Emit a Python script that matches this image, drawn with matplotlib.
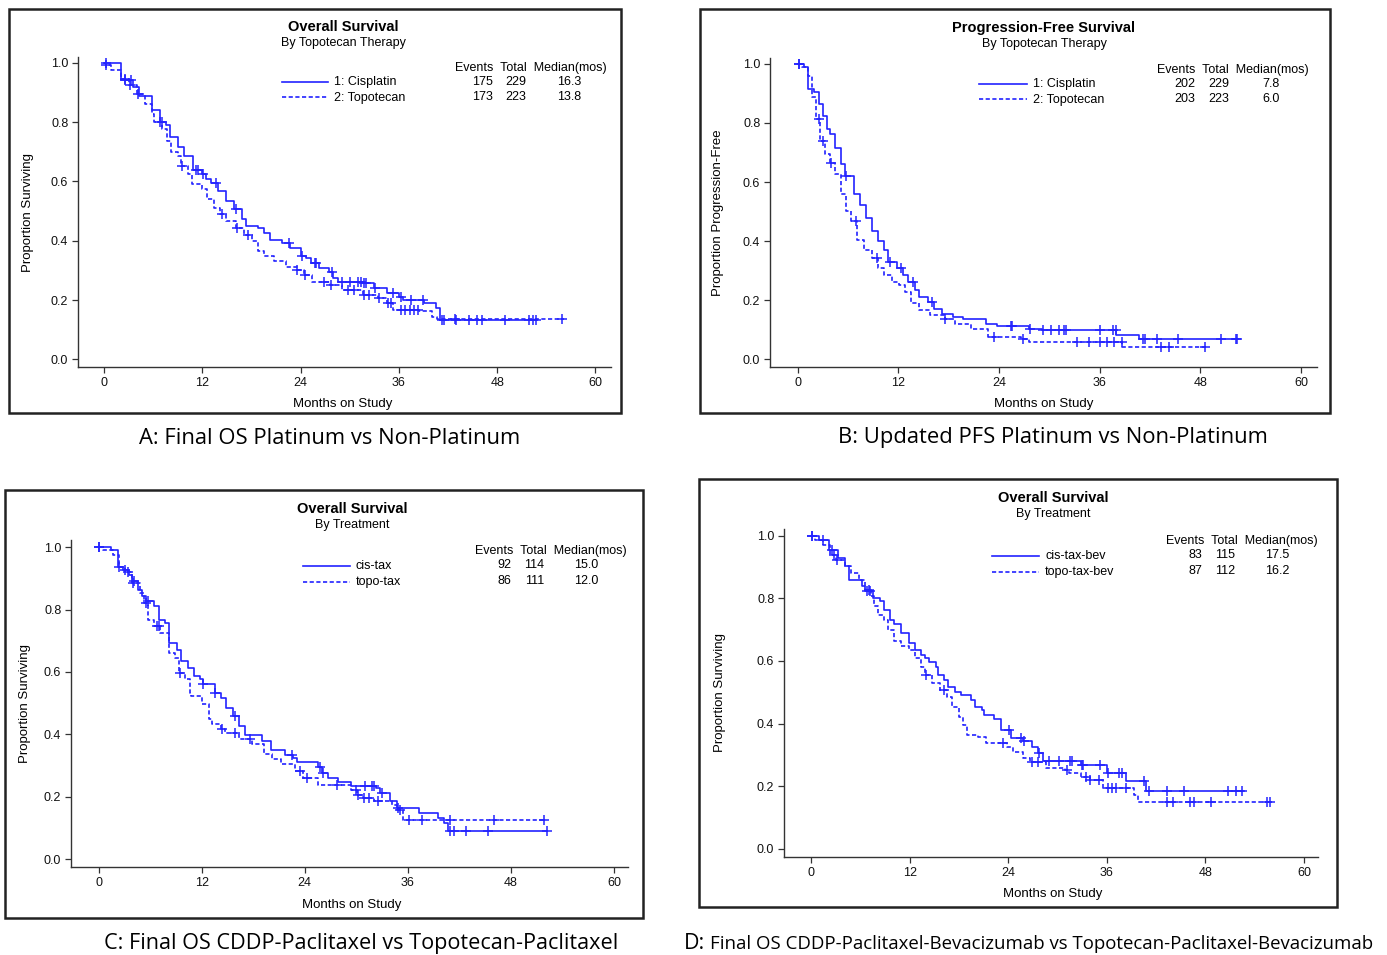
import numpy as np
import matplotlib
matplotlib.use("Agg")
import matplotlib.pyplot as plt
from matplotlib.patches import Rectangle

plt.rcParams['font.family'] = ['Liberation Sans', 'DejaVu Sans']

W, H = 1387, 955
BLUE = '#2323ff'

# ---- data ----
# A: OS cisplatin vs topotecan
a_cis_t = [0, 2.1, 3.5, 4.3, 5.8, 6.8, 7.5, 8.0, 9.0, 9.7, 10.9, 11.9, 12.4, 13.1, 13.9, 14.9, 15.8, 16.8,
           17.3, 18.8, 19.5, 20.3, 21.7, 22.7, 24.0, 24.7, 25.2, 26.2, 27.4, 27.9, 28.6, 31.6, 33.0, 34.5,
           36.0, 36.5, 39.0, 40.5, 41.0]
a_cis_s = [1.0, 0.941, 0.92, 0.89, 0.84, 0.80, 0.79, 0.75, 0.715, 0.687, 0.64, 0.624, 0.607, 0.596, 0.568,
           0.534, 0.506, 0.472, 0.45, 0.443, 0.426, 0.404, 0.393, 0.376, 0.347, 0.342, 0.325, 0.308, 0.296,
           0.274, 0.262, 0.257, 0.24, 0.223, 0.211, 0.20, 0.189, 0.172, 0.134]
a_cis_end = 52.7
a_cis_cens = [0.2, 2.6, 3.3, 7.0, 11.2, 11.5, 12.1, 13.6, 16.1, 22.6, 24.2, 25.7, 25.9, 27.8, 29.1, 30.0,
              31.0, 31.4, 31.7, 32.0, 33.1, 35.3, 36.3, 37.5, 38.9, 41.2, 41.5, 43.0, 44.5, 45.5, 46.2,
              49.0, 51.9, 52.4, 52.7]
a_top_t = [0, 0.2, 0.8, 2.1, 3.0, 4.0, 5.0, 5.8, 6.1, 7.0, 7.7, 8.2, 9.0, 9.4, 10.2, 10.7, 11.9, 12.6, 13.4,
           14.1, 14.9, 16.1, 17.1, 18.1, 18.8, 19.5, 20.8, 22.2, 23.5, 24.4, 25.4, 27.6, 29.1, 31.6, 33.5,
           34.5, 35.3, 38.5, 40.0, 40.7]
a_top_s = [1.0, 0.992, 0.975, 0.947, 0.924, 0.894, 0.862, 0.828, 0.80, 0.777, 0.738, 0.698, 0.687, 0.653,
           0.624, 0.59, 0.574, 0.54, 0.511, 0.489, 0.466, 0.443, 0.421, 0.398, 0.364, 0.347, 0.33, 0.313,
           0.302, 0.285, 0.262, 0.251, 0.234, 0.217, 0.206, 0.189, 0.166, 0.163, 0.144, 0.137]
a_top_end = 56.2
a_top_cens = [0.2, 2.6, 3.1, 4.1, 6.8, 9.5, 14.4, 16.2, 17.6, 23.6, 24.5, 26.9, 27.7, 29.8, 30.5, 31.7,
              32.3, 33.6, 34.7, 35.0, 36.3, 36.8, 37.3, 37.8, 38.3, 42.9, 55.9]

# B: PFS cisplatin vs topotecan
b_cis_t = [0, 0.7, 1.2, 2.0, 2.5, 3.0, 3.5, 3.9, 4.4, 5.2, 5.6, 6.7, 7.4, 8.1, 8.9, 9.6, 10.3, 10.8, 11.8,
           12.6, 13.1, 14.0, 14.5, 15.5, 16.3, 17.2, 18.5, 19.7, 22.4, 23.7, 27.6, 29.1, 38.0, 40.7]
b_cis_s = [1.0, 0.989, 0.915, 0.904, 0.864, 0.824, 0.779, 0.762, 0.717, 0.66, 0.62, 0.558, 0.524, 0.478,
           0.433, 0.399, 0.371, 0.331, 0.308, 0.286, 0.263, 0.235, 0.212, 0.195, 0.172, 0.155, 0.144,
           0.136, 0.121, 0.113, 0.104, 0.099, 0.082, 0.070]
b_cis_end = 52.5
b_cis_cens = [0.1, 5.7, 11.0, 12.3, 13.8, 16.0, 25.4, 25.6, 27.7, 29.2, 30.2, 31.2, 31.8, 32.0, 36.0,
              37.6, 37.9, 41.2, 41.4, 42.8, 45.3, 50.5, 52.2, 52.4]
b_top_t = [0, 0.5, 1.2, 1.7, 2.2, 2.7, 3.2, 3.9, 4.4, 5.2, 5.7, 6.4, 7.1, 7.9, 8.9, 9.6, 10.3, 11.3, 12.1,
           12.8, 13.5, 14.5, 15.8, 17.5, 18.7, 20.7, 22.7, 26.6, 27.6, 38.7]
b_top_s = [1.0, 0.989, 0.96, 0.887, 0.813, 0.739, 0.694, 0.665, 0.626, 0.558, 0.501, 0.467, 0.405, 0.371,
           0.342, 0.308, 0.286, 0.263, 0.252, 0.229, 0.189, 0.167, 0.15, 0.138, 0.121, 0.104, 0.076, 0.07,
           0.059, 0.042]
b_top_end = 48.8
b_top_cens = [0.1, 2.5, 3.0, 4.0, 6.9, 9.4, 17.6, 23.4, 26.8, 33.3, 34.7, 36.0, 36.9, 37.7, 38.6, 43.3,
              44.3, 48.5]

# C: OS cis-tax vs topo-tax
c_cis_t = [0, 1.4, 2.3, 2.9, 3.5, 3.9, 4.6, 5.1, 5.5, 6.4, 7.0, 7.7, 8.2, 9.1, 9.6, 10.4, 11.1, 11.8, 12.1,
           13.5, 14.2, 14.8, 15.6, 16.4, 17.1, 19.0, 20.1, 21.7, 22.6, 23.1, 25.5, 26.0, 26.7, 27.9, 29.4,
           32.3, 32.7, 33.9, 34.7, 37.3, 39.5, 40.2, 40.7]
c_cis_s = [1.0, 0.99, 0.936, 0.927, 0.911, 0.89, 0.863, 0.842, 0.826, 0.81, 0.767, 0.757, 0.693, 0.672,
           0.634, 0.613, 0.586, 0.576, 0.562, 0.532, 0.516, 0.484, 0.458, 0.426, 0.399, 0.378, 0.351,
           0.335, 0.324, 0.31, 0.296, 0.276, 0.26, 0.249, 0.235, 0.228, 0.212, 0.186, 0.164, 0.148, 0.132,
           0.116, 0.09]
c_cis_end = 52.2
c_cis_cens = [0.1, 2.4, 3.1, 4.1, 5.8, 12.2, 13.6, 15.9, 22.5, 25.8, 26.1, 31.0, 31.8, 32.1, 33.0, 34.8,
              40.9, 41.4, 42.8, 45.3, 52.2]
c_top_t = [0, 0.5, 1.7, 2.4, 3.1, 3.9, 4.8, 5.3, 5.8, 6.5, 7.2, 8.2, 8.9, 9.4, 10.1, 10.6, 10.8, 12.0, 12.8,
           13.2, 14.2, 14.7, 16.4, 17.8, 19.3, 20.2, 21.2, 22.9, 23.8, 25.5, 29.4, 30.1, 30.8, 32.0, 34.2,
           34.7, 35.4]
c_top_s = [1.0, 0.99, 0.975, 0.938, 0.922, 0.885, 0.853, 0.821, 0.767, 0.746, 0.725, 0.661, 0.645, 0.597,
           0.576, 0.533, 0.523, 0.496, 0.448, 0.432, 0.416, 0.405, 0.384, 0.368, 0.336, 0.32, 0.304, 0.282,
           0.26, 0.239, 0.223, 0.207, 0.196, 0.186, 0.175, 0.159, 0.127]
c_top_end = 52.0
c_top_cens = [0.1, 3.4, 4.0, 5.5, 6.8, 7.0, 9.5, 14.4, 15.9, 17.6, 23.4, 24.3, 27.7, 29.9, 30.2, 30.9,
              31.5, 32.5, 35.1, 36.1, 37.6, 40.9, 46.0, 51.8]

# D: OS cis-tax-bev vs topo-tax-bev
d_cis_t = [0, 1.0, 2.2, 3.3, 4.1, 4.6, 6.2, 6.6, 7.5, 8.4, 8.9, 9.6, 10.1, 10.9, 11.9, 12.7, 13.4, 13.9,
           14.4, 15.2, 15.5, 16.2, 16.7, 17.5, 18.2, 19.5, 20.0, 20.8, 21.0, 22.3, 23.1, 24.3, 25.8, 26.9,
           27.6, 28.2, 32.9, 36.0, 38.3, 40.8]
d_cis_s = [1.0, 0.985, 0.955, 0.929, 0.902, 0.859, 0.838, 0.822, 0.80, 0.79, 0.763, 0.731, 0.718, 0.688,
           0.656, 0.635, 0.619, 0.608, 0.597, 0.582, 0.555, 0.539, 0.518, 0.502, 0.491, 0.475, 0.454,
           0.443, 0.427, 0.416, 0.38, 0.353, 0.343, 0.326, 0.305, 0.281, 0.268, 0.241, 0.218, 0.186]
d_cis_end = 52.7
d_cis_cens = [0.1, 1.4, 2.5, 6.8, 7.2, 24.1, 25.6, 25.9, 27.8, 28.9, 30.2, 31.5, 31.8, 33.0, 33.1, 35.2,
              36.1, 37.5, 37.9, 40.5, 41.1, 43.3, 45.4, 50.7, 51.7, 52.5]
d_top_t = [0, 0.5, 1.5, 2.3, 3.0, 4.1, 4.8, 5.8, 6.6, 7.3, 7.6, 8.1, 8.9, 9.4, 10.1, 10.9, 11.9, 12.7, 13.4,
           13.9, 14.7, 15.7, 16.5, 17.2, 18.0, 18.5, 19.0, 20.3, 21.3, 23.8, 24.6, 25.8, 26.6, 28.6, 30.9,
           31.4, 32.9, 34.0, 35.5, 39.3, 39.8]
d_top_s = [1.0, 0.987, 0.971, 0.939, 0.923, 0.902, 0.88, 0.859, 0.827, 0.806, 0.774, 0.748, 0.731, 0.699,
           0.662, 0.646, 0.635, 0.608, 0.582, 0.555, 0.528, 0.507, 0.486, 0.454, 0.422, 0.395, 0.363,
           0.358, 0.337, 0.326, 0.31, 0.289, 0.278, 0.257, 0.252, 0.241, 0.23, 0.22, 0.193, 0.172, 0.148]
d_top_end = 56.0
d_top_cens = [0.1, 2.8, 3.1, 7.1, 14.0, 16.2, 23.3, 26.9, 27.6, 31.2, 33.5, 34.0, 35.0, 36.1, 36.6, 37.1,
              38.3, 43.3, 44.1, 46.1, 46.6, 48.7, 55.5, 55.8]

titles = ['Progression-Free Survival', 'Overall Survival']
subtitles = ['By Topotecan Therapy', 'By Treatment']
legend_a = ['1: Cisplatin', '2: Topotecan']
legend_c = ['cis-tax', 'topo-tax']
legend_d = ['cis-tax-bev', 'topo-tax-bev']
table_hdr = ['Events', 'Total', 'Median(mos)']
tab_a = [['175', '229', '16.3'], ['173', '223', '13.8']]
tab_b = [['202', '229', '7.8'], ['203', '223', '6.0']]
tab_c = [['92', '114', '15.0'], ['86', '111', '12.0']]
tab_d = [['83', '115', '17.5'], ['87', '112', '16.2']]
xticks = [0, 12, 24, 36, 48, 60]
yticks = [0.0, 0.2, 0.4, 0.6, 0.8, 1.0]
captions = ['A: Final OS Platinum vs Non-Platinum', 'B: Updated PFS Platinum vs Non-Platinum',
            'C: Final OS CDDP-Paclitaxel vs Topotecan-Paclitaxel',
            'Final OS CDDP-Paclitaxel-Bevacizumab vs Topotecan-Paclitaxel-Bevacizumab']


def fx(px):
    return px / W


def fy(py):
    return 1 - py / H


def draw_curve(ax, t, s, end, cens, ls):
    t = list(t) + [end]
    s = list(s) + [s[-1]]
    ax.step(t, s, where='post', color=BLUE, lw=1.2, ls=ls)
    idx = np.searchsorted(np.array(t), np.array(cens), side='right') - 1
    ax.plot(cens, np.array(s)[idx], ls='none', marker='+', ms=7.5, mew=1.1, color=BLUE)


def panel(box, axbox, xlim, ylim, title, sub, tcx, ttop, ylabel, ylx, xly,
          curves, legend, leg, table, tab):
    fig.patches.append(Rectangle((fx(box[0]), fy(box[3])), (box[2] - box[0]) / W,
                                 (box[3] - box[1]) / H, transform=fig.transFigure,
                                 fill=False, ec='#222222', lw=1.8))
    l, t, r, b = axbox
    ax = fig.add_axes([fx(l), fy(b), (r - l) / W, (b - t) / H])
    for c, ls in zip(curves, ['-', (0, (2.5, 1.5))]):
        draw_curve(ax, *c, ls)
    ax.set_xlim(*xlim)
    ax.set_ylim(*ylim)
    ax.set_xticks(xticks)
    ax.set_yticks(yticks)
    ax.set_yticklabels(['%.1f' % v for v in yticks])
    ax.spines['top'].set_visible(False)
    ax.spines['right'].set_visible(False)
    for sp in ['left', 'bottom']:
        ax.spines[sp].set_color('#333333')
        ax.spines[sp].set_linewidth(1.0)
    ax.tick_params(direction='out', length=4, width=0.9, colors='#333333', labelsize=9,
                   labelcolor='#111111', pad=3)
    fig.text(fx(tcx), fy(ttop), title, ha='center', va='center', fontsize=10.5, weight='bold')
    fig.text(fx(tcx), fy(ttop + 16), sub, ha='center', va='center', fontsize=9)
    fig.text(fx(ylx), fy((t + b) / 2), ylabel, rotation=90, ha='center', va='center', fontsize=9.5)
    fig.text(fx(tcx), fy(xly), 'Months on Study', ha='center', va='center', fontsize=9.5)
    # legend
    lx0, lx1, ly = leg
    for i, (lab, ls) in enumerate(zip(legend, ['-', (0, (2.5, 1.5))])):
        yy = ly + i * 15.5
        fig.add_artist(plt.Line2D([fx(lx0), fx(lx1)], [fy(yy), fy(yy)], color=BLUE, lw=1.2, ls=ls,
                                  transform=fig.transFigure))
        fig.text(fx(lx1 + 6), fy(yy), lab, ha='left', va='center', fontsize=9)
    # table
    hx, hy, ev_r, tot_r, med_c = table
    fig.text(fx(hx), fy(hy), '  '.join(table_hdr), ha='left', va='center', fontsize=9)
    for i, row in enumerate(tab):
        yy = hy + 14 + i * 15.5
        fig.text(fx(ev_r), fy(yy), row[0], ha='right', va='center', fontsize=9)
        fig.text(fx(tot_r), fy(yy), row[1], ha='right', va='center', fontsize=9)
        fig.text(fx(med_c), fy(yy), row[2], ha='center', va='center', fontsize=9)
    return ax


fig = plt.figure(figsize=(W / 100, H / 100), dpi=100)

panel((9, 9, 621, 413), (78, 57, 611, 367), (-3.2, 61.9), (-0.026, 1.02),
      titles[1], subtitles[0], 343, 27, 'Proportion Surviving', 28, 404,
      [(a_cis_t, a_cis_s, a_cis_end, a_cis_cens), (a_top_t, a_top_s, a_top_end, a_top_cens)],
      legend_a, (282, 328, 82), (455, 68, 493, 526, 569), tab_a)

panel((700, 9, 1330, 413), (770, 58, 1317, 367), (-3.3, 61.9), (-0.026, 1.02),
      titles[0], subtitles[0], 1044, 28, 'Proportion Progression-Free', 718, 404,
      [(b_cis_t, b_cis_s, b_cis_end, b_cis_cens), (b_top_t, b_top_s, b_top_end, b_top_cens)],
      legend_a, (979, 1027, 84), (1157, 70, 1195, 1229, 1271), tab_b)

panel((5, 490, 643, 918), (71, 540, 628, 867), (-3.2, 61.6), (-0.025, 1.023),
      titles[1], subtitles[1], 352, 509, 'Proportion Surviving', 25, 905,
      [(c_cis_t, c_cis_s, c_cis_end, c_cis_cens), (c_top_t, c_top_s, c_top_end, c_top_cens)],
      legend_c, (303, 350, 566), (475, 551, 511, 544, 586), tab_c)

panel((699, 479, 1337, 907), (784, 529, 1318, 857), (-3.3, 61.7), (-0.026, 1.021),
      titles[1], subtitles[1], 1053, 498, 'Proportion Surviving', 720, 894,
      [(d_cis_t, d_cis_s, d_cis_end, d_cis_cens), (d_top_t, d_top_s, d_top_end, d_top_cens)],
      legend_d, (992, 1039, 556), (1166, 541, 1202, 1235, 1277), tab_d)

cap_font = ['Open Sans', 'DejaVu Sans']
fig.text(fx(330), fy(438), captions[0], ha='center', va='center', fontsize=15.8, family=cap_font)
fig.text(fx(1053), fy(437), captions[1], ha='center', va='center', fontsize=15.8, family=cap_font)
fig.text(fx(361), fy(943), captions[2], ha='center', va='center', fontsize=15.6, family=cap_font)
fig.text(fx(684), fy(943), 'D:', ha='left', va='center', fontsize=15.5, family=cap_font)
fig.text(fx(710), fy(944), captions[3], ha='left', va='center', fontsize=13.45, family=cap_font)

fig.savefig('out.png', dpi=100, facecolor='white')
